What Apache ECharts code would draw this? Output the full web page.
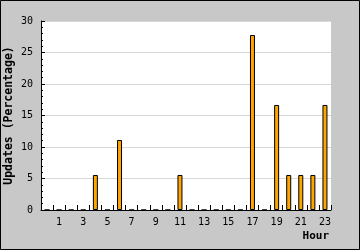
<!DOCTYPE html>
<html><head><meta charset="utf-8">
<script src="https://cdn.jsdelivr.net/npm/echarts@6/dist/echarts.min.js"></script>
<style>html,body{margin:0;padding:0;background:#c8c8c8}#c{width:360px;height:250px}</style>
</head><body><div id="c"></div>
<script>
const hours = ['0','1','2','3','4','5','6','7','8','9','10','11','12','13','14','15','16','17','18','19','20','21','22','23'];
const updates = [0,0,0,0,5.56,0,11.11,0,0,0,0,5.56,0,0,0,0,0,27.78,0,16.67,5.56,5.56,5.56,16.67];
const yTicks = [0,5,10,15,20,25,30];
const font = 'DejaVu Sans Mono';
const chart = echarts.init(document.getElementById('c'), null, {renderer:'canvas'});
chart.setOption({
  backgroundColor:'#c8c8c8',
  animation:false,
  grid:{left:41,top:21,right:29,bottom:40,containLabel:false,outerBoundsMode:'none',show:true,backgroundColor:'#fff',borderWidth:0},
  xAxis:{
    type:'category', data:hours, boundaryGap:true,
    name:'Hour', nameLocation:'end', nameGap:0, nameMoveOverlap:false,
    nameTextStyle:{fontFamily:font,fontSize:11,fontWeight:'bold',color:'#000',align:'right',verticalAlign:'top',padding:[21,2,0,0]},
    axisLine:{lineStyle:{color:'#000',width:1}},
    axisTick:{show:true,inside:true,length:5,interval:0,lineStyle:{color:'#000'}},
    axisLabel:{interval:function(i){return i%2===1;},fontFamily:font,fontSize:10,color:'#000',margin:7},
    splitLine:{show:false}
  },
  yAxis:{
    type:'value', min:yTicks[0], max:yTicks[yTicks.length-1], interval:5,
    name:'Updates (Percentage)', nameLocation:'middle', nameGap:26, nameRotate:90, nameMoveOverlap:false,
    nameTextStyle:{fontFamily:font,fontSize:11.5,fontWeight:'bold',color:'#000'},
    axisLine:{show:true,lineStyle:{color:'#000',width:1}},
    axisTick:{show:true,inside:true,length:4,lineStyle:{color:'#000'}},
    minorTick:{show:true,splitNumber:5,length:2,lineStyle:{color:'#000'}},
    axisLabel:{fontFamily:font,fontSize:10,color:'#000',margin:8},
    splitLine:{show:true,lineStyle:{color:'#d8d8d8',width:1}}
  },
  series:[{
    type:'bar', data:updates, barWidth:5,
    itemStyle:{color:'#ffa500',borderColor:'#000',borderWidth:1}
  }],
  graphic:[{type:'rect',shape:{x:0.5,y:0.5,width:359,height:249},style:{fill:null,stroke:'#000',lineWidth:1},z:100}]
});
</script></body></html>
